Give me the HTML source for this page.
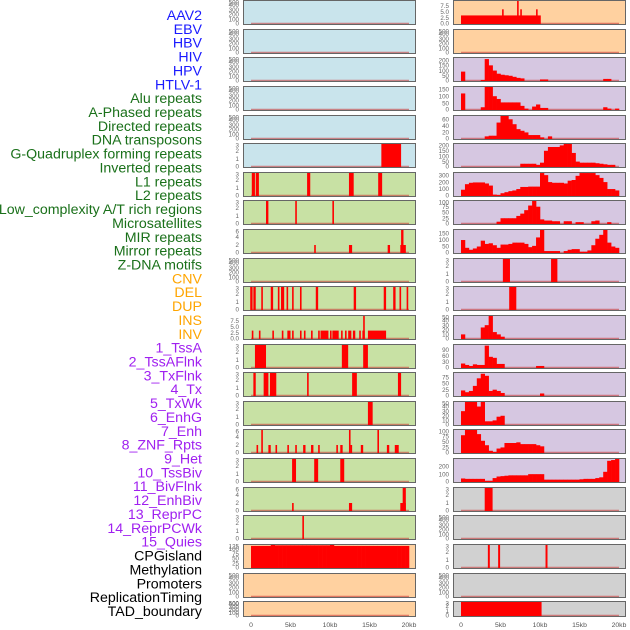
<!DOCTYPE html>
<html><head><meta charset="utf-8">
<style>
html,body{margin:0;padding:0;background:#fff;width:630px;height:630px;overflow:hidden}
svg{display:block}
</style></head>
<body>
<svg id="chart" width="630" height="630" xmlns="http://www.w3.org/2000/svg" font-family="Liberation Sans, sans-serif"></svg>
<script>
// ---------- labels ----------
const labelNames = ["AAV2","EBV","HBV","HIV","HPV","HTLV-1","Alu repeats","A-Phased repeats","Directed repeats","DNA transposons","G-Quadruplex forming repeats","Inverted repeats","L1 repeats","L2 repeats","Low_complexity A/T rich regions","Microsatellites","MIR repeats","Mirror repeats","Z-DNA motifs","CNV","DEL","DUP","INS","INV","1_TssA","2_TssAFlnk","3_TxFlnk","4_Tx","5_TxWk","6_EnhG","7_Enh","8_ZNF_Rpts","9_Het","10_TssBiv","11_BivFlnk","12_EnhBiv","13_ReprPC","14_ReprPCWk","15_Quies","CPGisland","Methylation","Promoters","ReplicationTiming","TAD_boundary"];
const labelGroups = [0,0,0,0,0,0,1,1,1,1,1,1,1,1,1,1,1,1,1,2,2,2,2,2,3,3,3,3,3,3,3,3,3,3,3,3,3,3,3,4,4,4,4,4];
const xTicks = [0,5,10,15,20];
const xTickLabels = ["0","5kb","10kb","15kb","20kb"];

// ---------- tick sets ----------
const t500 = ["0","100","200","300","400","500"];
const t3 = ["0","1","2","3"];
const t6 = ["0","2","4","6"];
const t75 = ["0.0","2.5","5.0","7.5"];
const t125 = ["0","25","50","75","100","125"];

// ---------- data: segments [startKb, endKb, value] ----------
const segEmpty = [];
const segHTLV = [[16.5,19.0,3]];
const segAlu = [[0.1,0.5,3],[0.6,1.0,3],[7.1,7.5,3],[12.4,13.0,3],[16.1,16.6,3]];
const segAPhased = [[1.9,2.2,3],[5.6,5.8,3],[10.3,10.5,3]];
const segDirected = [[8.0,8.2,2],[12.4,12.8,2],[17.3,17.6,2],[18.9,19.6,2],[19.0,19.3,6]];
const segGQuad = [[-0.1,0.2,3],[0.3,0.6,3],[1.3,1.5,3],[2.5,2.8,3],[3.4,3.6,3],[3.8,4.2,3],[4.5,4.7,3],[5.2,5.4,3],[6.2,6.4,3],[8.2,8.5,3],[13.0,13.3,3],[16.8,17.1,3],[18.0,18.3,3],[18.8,19.0,3],[19.7,19.9,3]];
const segInverted = [[0.1,0.3,3.5],[1.0,1.2,3.5],[2.7,2.9,3.5],[3.9,4.1,3.5],[4.6,5.0,3.5],[5.2,5.4,3.5],[6.2,6.4,3.5],[6.7,6.9,3.5],[7.6,7.8,3.5],[8.5,8.7,3.5],[8.8,9.8,3.5],[10.0,10.2,3.5],[10.3,11.1,3.5],[11.4,11.6,3.5],[11.9,12.1,3.5],[12.3,12.7,3.5],[12.9,13.2,3.5],[13.7,13.9,3.5],[14.1,14.4,3.5],[14.2,14.35,10],[14.8,17.1,3.5]];
const segL1 = [[0.5,1.9,3],[11.5,12.3,3],[14.2,14.8,3]];
const segL2 = [[0.3,0.6,3],[1.6,2.2,3],[2.4,3.2,3],[7.1,7.3,3],[12.8,13.4,3],[18.6,19.0,3]];
const segLowComplex = [[14.8,15.4,3]];
const segMicro = [[0.7,0.9,2],[1.3,1.5,6],[2.2,2.5,2],[3.1,3.3,2],[4.6,4.8,2],[5.6,5.8,2],[6.6,6.9,2],[7.6,7.9,2],[8.5,8.7,2],[10.8,11.0,2],[11.3,11.6,2],[12.4,12.6,6],[12.6,12.8,2],[13.9,14.2,2],[16.0,16.2,6],[17.2,17.5,2],[18.2,18.7,2]];
const segMIR = [[5.2,5.7,3],[8.0,8.5,3],[11.3,11.8,3]];
const segMirror = [[5.2,5.4,2],[12.4,12.8,2],[18.9,19.6,2],[19.2,19.6,6]];
const segZDNA = [[6.5,6.7,3]];
const segINS = [[0,10.1,3.5],[5.2,5.4,6],[7.1,7.3,9.5],[7.5,7.7,6],[9.5,9.7,6]];
const segState10 = [[5.3,6.2,3],[11.4,12.2,3]];
const segState11 = [[6.1,7.0,3]];
const segBivFlnk = [[3.0,4.0,3]];
const segMeth = [[3.4,3.65,3],[4.7,4.95,3],[10.7,10.95,3]];
const segTAD = [[0,10.2,3]];

// ---------- data: 0.5kb bins (40 per panel) ----------
const binsCPG = [115,115,115,115,115,120,118,118,118,118,118,118,118,118,118,118,118,118,118,118,120,115,115,115,115,115,115,115,115,115,115,115,115,115,115,115,115,115,115,115];
const binsTssA = [90,0,0,0,0,10,210,150,100,70,60,55,50,40,30,25,0,0,0,0,15,15,0,0,0,0,0,0,0,0,0,0,0,0,0,0,20,20,0,0];
const binsTssAFlnk = [120,0,0,0,0,20,170,170,100,80,55,55,55,55,55,30,10,0,25,40,15,15,0,0,0,0,0,0,0,0,0,0,0,0,0,0,20,10,0,10];
const binsTxFlnk = [0,0,0,0,0,0,8,10,10,50,70,70,60,45,30,25,20,12,12,12,5,0,8,0,0,0,0,0,0,0,0,0,0,0,0,0,0,0,0,0];
const binsTx = [0,0,0,0,0,0,0,0,0,0,0,0,0,0,0,30,30,30,30,20,40,150,185,185,185,200,215,215,130,50,40,40,40,40,35,30,25,20,20,0];
const binsTxWk = [90,170,190,195,195,195,180,150,20,15,40,55,70,80,100,130,130,135,135,135,330,300,200,190,190,190,180,220,230,290,330,330,330,330,300,260,200,100,100,80];
const binsEnhG = [0,0,0,0,0,0,0,0,0,10,25,25,25,25,35,45,60,80,105,75,20,15,15,12,12,0,12,12,0,8,8,0,0,12,15,0,0,8,0,0];
const binsEnh = [100,40,25,35,50,95,70,75,60,40,65,65,70,80,80,80,70,45,55,120,180,15,15,15,15,0,15,25,30,30,10,10,20,60,110,140,185,80,50,40];
const binsHet = [10,0,0,0,0,25,30,50,15,10,5,0,0,0,0,0,0,0,0,0,0,0,0,0,0,0,0,0,0,0,0,0,0,0,0,0,0,0,0,0];
const binsTssBiv = [22,15,10,18,15,15,110,55,50,20,20,0,0,0,0,0,0,0,0,10,10,0,0,0,0,0,0,0,0,0,0,0,0,0,0,0,0,0,0,0];
const binsBivFlnkR = [22,15,20,40,70,88,80,20,25,20,12,0,0,0,0,0,0,0,0,0,10,0,0,0,0,0,0,0,0,0,0,0,0,0,0,0,0,0,0,0];
const binsEnhBiv = [30,50,50,50,40,50,8,8,10,18,20,0,0,0,0,0,0,0,0,0,0,0,0,0,0,0,0,0,0,0,0,0,0,0,0,0,0,0,0,0];
const binsReprPC = [80,105,105,105,85,55,35,10,5,20,25,45,45,45,48,40,40,40,40,35,30,0,0,0,0,0,0,0,0,0,0,0,0,0,0,0,0,0,0,0];
const binsReprPCWk = [45,40,40,40,40,40,15,15,50,70,75,80,85,85,85,85,85,100,100,100,100,30,30,30,30,30,30,30,30,30,35,40,40,40,50,60,130,270,280,300];

const BLUE="#c9e4ec", GREEN="#c8e1a4", ORANGE="#ffd1a0", PURPLE="#d6c7e1", GRAY="#d1d1d1";
const panels = [
 [BLUE,500,t500,"seg",segEmpty],[BLUE,500,t500,"seg",segEmpty],[BLUE,500,t500,"seg",segEmpty],
 [BLUE,500,t500,"seg",segEmpty],[BLUE,500,t500,"seg",segEmpty],[BLUE,3,t3,"seg",segHTLV],
 [GREEN,3,t3,"seg",segAlu],[GREEN,3,t3,"seg",segAPhased],[GREEN,6,t6,"seg",segDirected],
 [GREEN,500,t500,"seg",segEmpty],[GREEN,3,t3,"seg",segGQuad],[GREEN,10,t75,"seg",segInverted],
 [GREEN,3,t3,"seg",segL1],[GREEN,3,t3,"seg",segL2],[GREEN,3,t3,"seg",segLowComplex],
 [GREEN,6,t6,"seg",segMicro],[GREEN,3,t3,"seg",segMIR],[GREEN,6,t6,"seg",segMirror],
 [GREEN,3,t3,"seg",segZDNA],[ORANGE,125,t125,"bin",binsCPG],[ORANGE,500,t500,"seg",segEmpty],
 [ORANGE,500,t500,"seg",segEmpty],
 [ORANGE,9.8,t75,"seg",segINS],[ORANGE,500,t500,"seg",segEmpty],
 [PURPLE,230,["0","50","100","150","200"],"bin",binsTssA],
 [PURPLE,174,["0","50","100","150"],"bin",binsTssAFlnk],
 [PURPLE,73,["0","20","40","60"],"bin",binsTxFlnk],
 [PURPLE,222,["0","50","100","150","200"],"bin",binsTx],
 [PURPLE,345,["0","100","200","300"],"bin",binsTxWk],
 [PURPLE,104,["0","25","50","75","100"],"bin",binsEnhG],
 [PURPLE,185,["0","50","100","150"],"bin",binsEnh],
 [PURPLE,3,t3,"seg",segState10],[PURPLE,3,t3,"seg",segState11],
 [PURPLE,52,["0","10","20","30","40","50"],"bin",binsHet],
 [PURPLE,118,["0","30","60","90"],"bin",binsTssBiv],
 [PURPLE,95,["0","25","50","75"],"bin",binsBivFlnkR],
 [PURPLE,52,["0","10","20","30","40","50"],"bin",binsEnhBiv],
 [PURPLE,108,["0","25","50","75","100"],"bin",binsReprPC],
 [PURPLE,306,["0","100","200"],"bin",binsReprPCWk],
 [GRAY,3,t3,"seg",segBivFlnk],[GRAY,500,t500,"seg",segEmpty],[GRAY,3,t3,"seg",segMeth],
 [GRAY,500,t500,"seg",segEmpty],[GRAY,3,t3,"seg",segTAD]
];

const NS="http://www.w3.org/2000/svg";
const svg=document.getElementById('chart');
function mk(tag,attrs,parent){const e=document.createElementNS(NS,tag);for(const k in attrs)e.setAttribute(k,attrs[k]);(parent||svg).appendChild(e);return e;}

const groupColors=["#1a1aff","#1a701a","#ffa500","#a020f0","#000000"];
labelNames.forEach((n,i)=>{
  const t=mk('text',{x:202,y:(15+i*13.86+5).toFixed(1),'text-anchor':'end','font-size':'14.2',fill:groupColors[labelGroups[i]]});
  
  
  t.textContent=n;
});

const colLeft=[243,453];
const PW=173;
function rowTop(r){return Math.round(r*28.63);}
function rowH(r){return r<21?25:16;}

panels.forEach((p,idx)=>{
  const col=idx<22?0:1, row=idx%22;
  const L=colLeft[col], T=rowTop(row), H=rowH(row);
  const x0=L+8; const xs=158/20;
  const X=kb=>x0+kb*xs;
  const [bg,ymax,ticks,kind,data]=p;
  const Y=v=>T+H-1-(v/ymax)*(H-1);
  const g=mk('g',{});
  
  
  const clipId='c'+idx;
  const cp=mk('clipPath',{id:clipId},g);
  mk('rect',{x:L,y:T,width:PW,height:H},cp);
  const bgr=mk('rect',{x:L+0.5,y:T+0.5,width:PW-1,height:H-1,fill:bg,stroke:'none'},g);
  
  
  const marks=mk('g',{'clip-path':'url(#'+clipId+')'},g);
  const bl=mk('line',{x1:X(0),x2:X(20),y1:T+H-1.5,y2:T+H-1.5,stroke:'rgba(200,50,50,0.55)','stroke-width':1.5},marks);
  
  
  if(kind==='bin'){
    data.forEach((v,i)=>{ if(v<=0)return;
      const b=mk('rect',{x:X(i*0.5),y:Y(v),width:X(0.5)-X(0)+0.3,height:T+H-Y(v),fill:'#ff0000'},marks);
      
      
    });
  } else {
    data.forEach(s=>{
      const w=Math.max(1.6,X(s[1])-X(s[0]));
      const b=mk('rect',{x:X(s[0]),y:Y(s[2]),width:w,height:T+H-Y(s[2]),fill:'#ff0000'},marks);
      
      
    });
  }
  const br=mk('rect',{x:L+0.5,y:T+0.5,width:PW-1,height:H-1,fill:'none',stroke:'#666','stroke-width':1},g);
  
  
  ticks.forEach(s=>{
    const v=parseFloat(s);
    const ty=Math.max(T+2.5,Math.min(T+H-1.5,Y(v)));
    const t=mk('text',{x:L-4,y:(ty+2.2).toFixed(1),'text-anchor':'end','font-size':'6.2',fill:'#666'},g);
    
    
    t.textContent=s;
  });
});

[0,1].forEach(c=>{
  const x0=colLeft[c]+8, xs=158/20;
  xTicks.forEach((k,i)=>{
    const t=mk('text',{x:x0+k*xs,y:627,'text-anchor':'middle','font-size':'6.8',fill:'#555'});
    
    
    t.textContent=xTickLabels[i];
  });
});
</script>
</body></html>
